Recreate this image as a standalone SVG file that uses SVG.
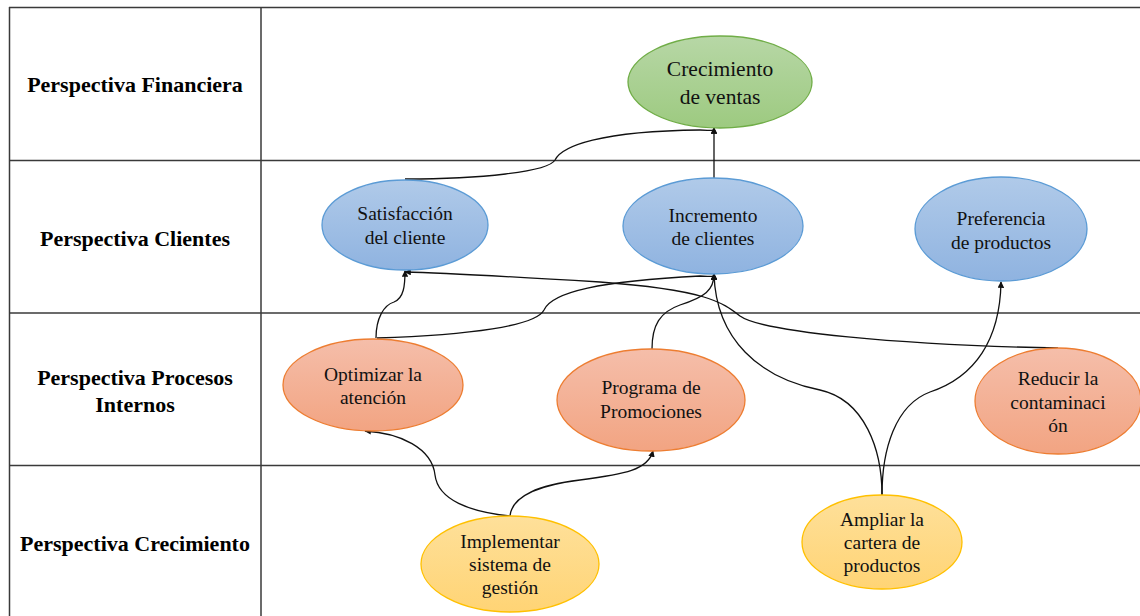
<svg xmlns="http://www.w3.org/2000/svg" width="1140" height="616" viewBox="0 0 1140 616">
  <style>
    .grid { stroke: #3a3a3a; stroke-width: 1.5; fill: none; }
    .row { font-family: "Liberation Serif", "Times New Roman", serif; font-weight: bold; font-size: 22px; fill: #000; text-anchor: middle; }
    .lbl { font-family: "Liberation Serif", "Times New Roman", serif; font-size: 19.5px; fill: #111; text-anchor: middle; }
    .big { font-size: 21.5px; }
    .green { fill: url(#gGreen); stroke: #70ad47; stroke-width: 1.3; }
    .blue { fill: url(#gBlue); stroke: #5b9bd5; stroke-width: 1.3; }
    .orange { fill: url(#gOrange); stroke: #ed7d31; stroke-width: 1.3; }
    .yellow { fill: url(#gYellow); stroke: #ffc000; stroke-width: 1.3; }
    .conn { fill: none; stroke: #111; stroke-width: 1.3; marker-end: url(#arrow); }
  </style>
  <defs>
    <linearGradient id="gGreen" x1="0" y1="0" x2="0" y2="1">
      <stop offset="0" stop-color="#b7d7a6"/>
      <stop offset="1" stop-color="#9dca80"/>
    </linearGradient>
    <linearGradient id="gBlue" x1="0" y1="0" x2="0" y2="1">
      <stop offset="0" stop-color="#b0cae9"/>
      <stop offset="1" stop-color="#8fb3e0"/>
    </linearGradient>
    <linearGradient id="gOrange" x1="0" y1="0" x2="0" y2="1">
      <stop offset="0" stop-color="#f5beaa"/>
      <stop offset="1" stop-color="#f2a482"/>
    </linearGradient>
    <linearGradient id="gYellow" x1="0" y1="0" x2="0" y2="1">
      <stop offset="0" stop-color="#fee09a"/>
      <stop offset="1" stop-color="#ffd475"/>
    </linearGradient>
    <marker id="arrow" viewBox="0 0 10 10" refX="9" refY="5" markerWidth="6.5" markerHeight="6.5" markerUnits="userSpaceOnUse" orient="auto">
      <path d="M0,0 L10,5 L0,10 z" fill="#111"/>
    </marker>
  </defs>

  <rect width="1140" height="616" fill="#ffffff"/>

  <!-- table grid -->
  <g id="table">
    <line class="grid" x1="9" y1="7.5" x2="1140" y2="7.5" stroke="#777"/>
    <line class="grid" x1="9.5" y1="7" x2="9.5" y2="616"/>
    <line class="grid" x1="261" y1="7" x2="261" y2="616"/>
    <line class="grid" x1="9" y1="160.5" x2="1140" y2="160.5"/>
    <line class="grid" x1="9" y1="313" x2="1140" y2="313" stroke="#666"/>
    <line class="grid" x1="9" y1="465.5" x2="1140" y2="465.5"/>
  </g>

  <!-- row headers -->
  <g id="headers">
    <text class="row" x="135" y="92">Perspectiva Financiera</text>
    <text class="row" x="135" y="246">Perspectiva Clientes</text>
    <text class="row" x="135" y="385">Perspectiva Procesos</text>
    <text class="row" x="135" y="412">Internos</text>
    <text class="row" x="135" y="551">Perspectiva Crecimiento</text>
  </g>

  <!-- connectors -->
  <g id="connectors">
    <path class="conn" d="M405,179 C480,179 548,172 555,160 C562,146 600,131 700,130 C710,130 714,132 714,128"/>
    <path class="conn" d="M714,178 L714,128"/>
    <path class="conn" d="M376,338 C376,318 384,305 394,302 C404,298 405,285 405,271"/>
    <path class="conn" d="M377,338 C470,335 536,326 544,310 C552,292 600,281 700,276 C710,276 714,278 714,274"/>
    <path class="conn" d="M652,349 C652,325 660,312 680,305 C705,297 714,290 714,274"/>
    <path class="conn" d="M1058,348 C900,345 762,332 740,316 C722,302 706,290 600,282 C500,276 450,273 405,272"/>
    <path class="conn" d="M882,495 C882,450 865,400 820,390 C760,378 716,340 714,274"/>
    <path class="conn" d="M882,495 C882,450 895,405 930,392 C975,377 1000,340 1001,282"/>
    <path class="conn" d="M510,516 C470,512 438,500 435,475 C432,448 400,433 365,431"/>
    <path class="conn" d="M510,516 C512,495 540,485 580,480 C625,474 648,470 653,451"/>
  </g>

  <!-- objectives -->
  <g id="crecimiento-ventas">
    <ellipse class="green" cx="720" cy="82" rx="92" ry="46"/>
    <text class="lbl big" x="720" y="76">Crecimiento</text>
    <text class="lbl big" x="720" y="104">de ventas</text>
  </g>
  <g id="satisfaccion-cliente">
    <ellipse class="blue" cx="405" cy="225" rx="83" ry="45"/>
    <text class="lbl" x="405" y="220">Satisfacción</text>
    <text class="lbl" x="405" y="244">del cliente</text>
  </g>
  <g id="incremento-clientes">
    <ellipse class="blue" cx="713" cy="226" rx="90" ry="48"/>
    <text class="lbl" x="713" y="222">Incremento</text>
    <text class="lbl" x="713" y="245">de clientes</text>
  </g>
  <g id="preferencia-productos">
    <ellipse class="blue" cx="1001" cy="229" rx="86" ry="52"/>
    <text class="lbl" x="1001" y="225">Preferencia</text>
    <text class="lbl" x="1001" y="249">de productos</text>
  </g>
  <g id="optimizar-atencion">
    <ellipse class="orange" cx="373" cy="385" rx="90" ry="46"/>
    <text class="lbl" x="373" y="381">Optimizar la</text>
    <text class="lbl" x="373" y="404">atención</text>
  </g>
  <g id="programa-promociones">
    <ellipse class="orange" cx="651" cy="400" rx="94" ry="51"/>
    <text class="lbl" x="651" y="394">Programa de</text>
    <text class="lbl" x="651" y="418">Promociones</text>
  </g>
  <g id="reducir-contaminacion">
    <ellipse class="orange" cx="1058" cy="401" rx="83" ry="53"/>
    <text class="lbl" x="1058" y="385">Reducir la</text>
    <text class="lbl" x="1058" y="409">contaminaci</text>
    <text class="lbl" x="1058" y="432">ón</text>
  </g>
  <g id="implementar-sistema">
    <ellipse class="yellow" cx="510" cy="564" rx="89" ry="48"/>
    <text class="lbl" x="510" y="548">Implementar</text>
    <text class="lbl" x="510" y="571">sistema de</text>
    <text class="lbl" x="510" y="594">gestión</text>
  </g>
  <g id="ampliar-cartera">
    <ellipse class="yellow" cx="882" cy="542" rx="80" ry="47"/>
    <text class="lbl" x="882" y="526">Ampliar la</text>
    <text class="lbl" x="882" y="549">cartera de</text>
    <text class="lbl" x="882" y="572">productos</text>
  </g>
</svg>
